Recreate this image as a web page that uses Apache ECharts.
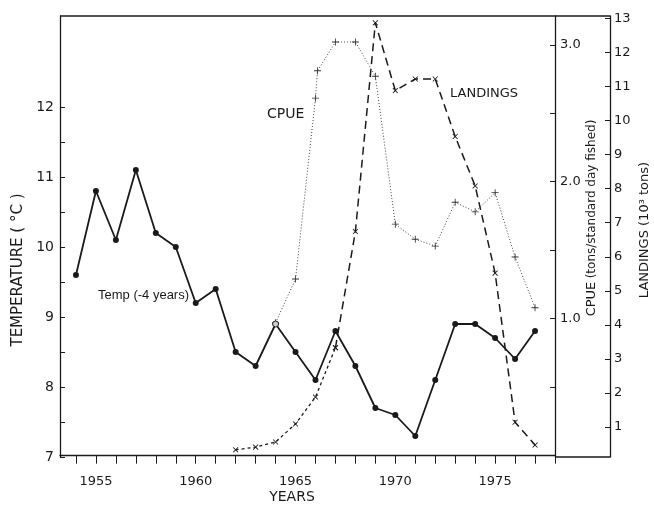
<!DOCTYPE html>
<html>
<head>
<meta charset="utf-8">
<script src="https://cdn.jsdelivr.net/npm/echarts@6/dist/echarts.min.js"></script>
<style>
  html, body { margin: 0; padding: 0; background: #fff; }
  #chart { width: 654px; height: 506px; }
</style>
</head>
<body>
<div id="chart"></div>
<script>
// temperature, 4 years lag
var years = [1954, 1955, 1956, 1957, 1958, 1959, 1960, 1961, 1962, 1963, 1964, 1965,
             1966, 1967, 1968, 1969, 1970, 1971, 1972, 1973, 1974, 1975, 1976, 1977];
var temperature = [9.6, 10.8, 10.1, 11.1, 10.2, 10.0, 9.2, 9.4, 8.5, 8.3, 8.9, 8.5,
                   8.1, 8.8, 8.3, 7.7, 7.6, 7.3, 8.1, 8.9, 8.9, 8.7, 8.4, 8.8];
// CPUE (tons / standard day fished)
var cpueYears = [1964, 1965, 1966, 1966.1, 1967, 1968, 1969, 1970, 1971, 1972, 1973, 1974, 1975, 1976, 1977];
var cpue = [0.97, 1.29, 2.61, 2.81, 3.02, 3.02, 2.77, 1.69, 1.58, 1.53, 1.85, 1.78, 1.92, 1.45, 1.08];
// landings (10^3 tons)
var landYears = [1962, 1963, 1964, 1965, 1966, 1967, 1968, 1969, 1970, 1971, 1972, 1973, 1974, 1975, 1976, 1977];
var landings = [0.33, 0.41, 0.56, 1.09, 1.88, 3.33, 6.74, 12.87, 10.88, 11.22, 11.22, 9.53, 8.08, 5.52, 1.14, 0.47];

// tick labels
var yearTicks = [1954, 1955, 1956, 1957, 1958, 1959, 1960, 1961, 1962, 1963, 1964, 1965, 1966,
                 1967, 1968, 1969, 1970, 1971, 1972, 1973, 1974, 1975, 1976, 1977, 1978];
var yearLabels = [1955, 1960, 1965, 1970, 1975];
var tempTicks = [7, 7.5, 8, 8.5, 9, 9.5, 10, 10.5, 11, 11.5, 12];
var tempLabels = [7, 8, 9, 10, 11, 12];
var cpueTicks = [0.5, 1, 1.5, 2, 2.5, 3];
var cpueLabels = [1, 2, 3];
var landTicks = [1, 2, 3, 4, 5, 6, 7, 8, 9, 10, 11, 12, 13];

var ink = '#1a1a1a';
var font = 'DejaVu Sans';

function pairs(xs, ys) {
  return xs.map(function (x, i) { return [x, ys[i]]; });
}

var plusPath = 'path://M0,4.4H4.4V0H5.6V4.4H10V5.6H5.6V10H4.4V5.6H0Z';

var chart = echarts.init(document.getElementById('chart'));

var tempData = pairs(years, temperature).map(function (p) {
  // 1964 point drawn open (also start of CPUE line)
  if (p[0] === 1964) {
    return { value: p, symbol: 'circle', itemStyle: { color: '#ccc', borderColor: ink, borderWidth: 1 } };
  }
  return p;
});

var landPairs = pairs(landYears, landings);
var cut = landYears.indexOf(1967);

var option = {
  animation: false,
  backgroundColor: '#fff',
  textStyle: { fontFamily: font, color: ink },
  grid: { left: 60, right: 99, top: 16, bottom: 49 },
  xAxis: {
    type: 'value',
    min: 1953.2,
    max: 1978,
    splitLine: { show: false },
    axisLine: { lineStyle: { color: ink, width: 1.3 } },
    axisTick: { customValues: yearTicks, length: 8, lineStyle: { color: ink, width: 1 } },
    axisLabel: {
      customValues: yearLabels, margin: 18, fontSize: 13, color: ink, fontFamily: font,
      formatter: function (v) { return String(v); }
    }
  },
  yAxis: [
    {
      type: 'value',
      min: 7,
      max: 13.3,
      position: 'left',
      splitLine: { show: false },
      axisLine: { show: true, lineStyle: { color: ink, width: 1.3 } },
      axisTick: { show: true, inside: true, length: 5, customValues: tempTicks, lineStyle: { color: ink } },
      axisLabel: { customValues: tempLabels, margin: 6, fontSize: 14, color: ink, fontFamily: font }
    },
    {
      type: 'value',
      min: -0.01,
      max: 3.21,
      position: 'right',
      splitLine: { show: false },
      axisLine: { show: true, lineStyle: { color: ink, width: 1.3 } },
      axisTick: { show: true, inside: true, length: 5, customValues: cpueTicks, lineStyle: { color: ink } },
      axisLabel: {
        customValues: cpueLabels, margin: 5, fontSize: 13, color: ink, fontFamily: font,
        formatter: function (v) { return v.toFixed(1); }
      }
    },
    {
      type: 'value',
      min: 0.12,
      max: 13.07,
      position: 'right',
      offset: 55,
      splitLine: { show: false },
      axisLine: { show: true, lineStyle: { color: ink, width: 1.3 } },
      axisTick: { show: true, inside: true, length: 5, customValues: landTicks, lineStyle: { color: ink } },
      axisLabel: { customValues: landTicks, margin: 4, fontSize: 13, color: ink, fontFamily: font }
    }
  ],
  series: [
    {
      name: 'Temp',
      type: 'line',
      yAxisIndex: 0,
      data: tempData,
      symbol: 'circle',
      symbolSize: 6,
      lineStyle: { color: ink, width: 1.8 },
      itemStyle: { color: ink },
      z: 5
    },
    {
      name: 'CPUE',
      type: 'line',
      yAxisIndex: 1,
      data: pairs(cpueYears, cpue),
      symbol: plusPath,
      symbolSize: 7,
      lineStyle: { color: '#444', width: 1, type: [1, 2] },
      itemStyle: { color: '#333' },
      z: 3
    },
    {
      name: 'Landings low',
      type: 'line',
      yAxisIndex: 2,
      data: landPairs.slice(0, cut + 1),
      symbol: plusPath,
      symbolRotate: 45,
      symbolSize: 7,
      lineStyle: { color: ink, width: 1.3, type: [3, 3] },
      itemStyle: { color: ink },
      z: 4
    },
    {
      name: 'Landings',
      type: 'line',
      yAxisIndex: 2,
      data: landPairs.slice(cut),
      symbol: plusPath,
      symbolRotate: 45,
      symbolSize: 7,
      lineStyle: { color: ink, width: 1.5, type: [8, 5] },
      itemStyle: { color: ink },
      z: 4
    }
  ],
  graphic: [
    // frame top and bottom extension to landings axis
    { type: 'line', shape: { x1: 60, y1: 16, x2: 610, y2: 16 }, style: { stroke: ink, lineWidth: 1.3 } },
    { type: 'line', shape: { x1: 555, y1: 457, x2: 610, y2: 457 }, style: { stroke: ink, lineWidth: 1.3 } },
    {
      type: 'text', x: 18, y: 270, rotation: Math.PI / 2,
      style: { text: 'TEMPERATURE ( °C )', font: '15px ' + font, fill: ink, textAlign: 'center', textVerticalAlign: 'middle' }
    },
    {
      type: 'text', x: 292, y: 497,
      style: { text: 'YEARS', font: '14px ' + font, fill: ink, textAlign: 'center', textVerticalAlign: 'middle' }
    },
    {
      type: 'text', x: 592, y: 218, rotation: Math.PI / 2,
      style: {
        text: '{a|CPUE} {b|(tons/standard day fished)}',
        textAlign: 'center', textVerticalAlign: 'middle',
        rich: {
          a: { fontSize: 13, fontFamily: font, fill: ink },
          b: { fontSize: 12, fontFamily: font, fill: ink }
        }
      }
    },
    {
      type: 'text', x: 645, y: 230, rotation: Math.PI / 2,
      style: { text: 'LANDINGS (10³ tons)', font: '13px ' + font, fill: ink, textAlign: 'center', textVerticalAlign: 'middle' }
    },
    {
      type: 'text', x: 98, y: 295,
      style: { text: 'Temp (-4 years)', font: '13px Liberation Sans', fill: ink, textVerticalAlign: 'middle' }
    },
    {
      type: 'text', x: 267, y: 114,
      style: { text: 'CPUE', font: '14px ' + font, fill: ink, textVerticalAlign: 'middle' }
    },
    {
      type: 'text', x: 450, y: 94,
      style: { text: 'LANDINGS', font: '13px ' + font, fill: ink, textVerticalAlign: 'middle' }
    }
  ]
};

chart.setOption(option);
</script>
</body>
</html>
